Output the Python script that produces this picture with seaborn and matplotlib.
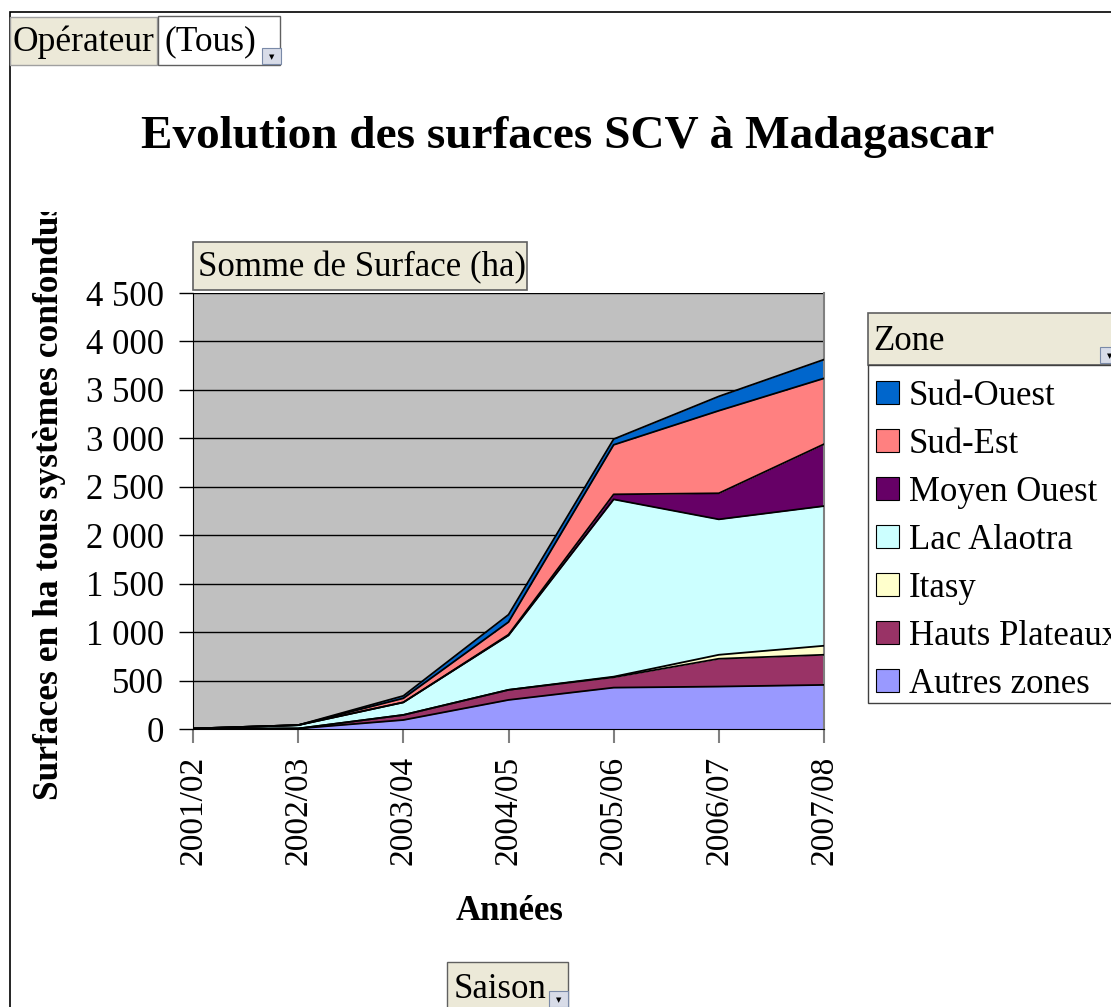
import numpy as np
import seaborn as sns
import matplotlib
matplotlib.use("Agg")
import matplotlib.pyplot as plt
from matplotlib.patches import Rectangle, Patch
from matplotlib.ticker import FuncFormatter, MultipleLocator
from matplotlib.transforms import Bbox, TransformedBbox

# data (ha)
saisons = ["2001/02", "2002/03", "2003/04", "2004/05", "2005/06", "2006/07", "2007/08"]
autres_zones = [2, 5, 93, 300, 427, 438, 455]
hauts_plateaux = [0, 0, 52, 104, 107, 287, 311]
itasy = [0, 0, 0, 0, 6, 41, 93]
lac_alaotra = [3, 35, 130, 562, 1830, 1398, 1442]
moyen_ouest = [0, 0, 0, 8, 52, 269, 639]
sud_est = [0, 0, 42, 130, 511, 852, 679]
sud_ouest = [0, 0, 25, 76, 59, 148, 194]

zones = ["Autres zones", "Hauts Plateaux", "Itasy", "Lac Alaotra",
         "Moyen Ouest", "Sud-Est", "Sud-Ouest"]
couleurs = ["#9999FF", "#993366", "#FFFFCC", "#CCFFFF",
            "#660066", "#FF8080", "#0066CC"]

sns.set_style("white")
plt.rcParams["font.family"] = ["Liberation Serif", "DejaVu Serif"]
plt.rcParams["text.color"] = "black"
plt.rcParams["xtick.labelcolor"] = "black"
plt.rcParams["ytick.labelcolor"] = "black"

W, H = 1111, 1007
fig = plt.figure(figsize=(W / 100, H / 100), dpi=100)


def px(x, y):
    return x / W, 1 - y / H


def box(x0, y0, x1, y1, fc, ec="black", lw=1.0, z=1):
    fig.add_artist(Rectangle(px(x0, y1), (x1 - x0) / W, (y1 - y0) / H,
                             transform=fig.transFigure, facecolor=fc,
                             edgecolor=ec, linewidth=lw, zorder=z))


def dropdown(x, y):
    box(x, y, x + 19, y + 16, "#D8DCE8", ec="#7A8AA8", lw=0.8, z=3)
    fig.text(*px(x + 9.5, y + 9), "\u25BC", family="DejaVu Sans", fontsize=5,
             ha="center", va="center", zorder=4)


# outer frame
box(10, 12, 1120, 1020, "none", lw=1.2)

# plot area
ax = fig.add_axes([193 / W, 1 - 729 / H, 631 / W, 436 / H])
ax.set_facecolor("#C0C0C0")

x = np.arange(len(saisons))
series = [autres_zones, hauts_plateaux, itasy, lac_alaotra, moyen_ouest, sud_est, sud_ouest]
bas = np.zeros(len(saisons))
handles = []
for nom, vals, c in zip(zones, series, couleurs):
    haut = bas + np.array(vals, dtype=float)
    ax.fill_between(x, bas, haut, color=c, linewidth=0, zorder=2)
    sns.lineplot(x=x, y=haut, color="black", linewidth=1.3, ax=ax, zorder=3)
    handles.append(Patch(facecolor=c, edgecolor="black", linewidth=0.8, label=nom))
    bas = haut

ax.set_xlim(0, len(saisons) - 1)
ax.set_ylim(0, 4500)
ax.yaxis.set_major_locator(MultipleLocator(500))
ax.yaxis.set_major_formatter(FuncFormatter(lambda v, p: f"{v:,.0f}".replace(",", " ")))
ax.grid(axis="y", color="black", linewidth=1.0, zorder=1)
ax.set_axisbelow(True)
ax.set_xticks(x)
ax.set_xticklabels(saisons, rotation=90, fontsize=24)
ax.tick_params(axis="y", labelsize=25, length=10, width=1, color="black", pad=11, left=True)
ax.tick_params(axis="x", length=10, width=1.5, color="#808080", pad=9, bottom=True)
ax.spines["top"].set_visible(False)
ax.spines["left"].set_color("black")
ax.spines["bottom"].set_color("black")
ax.spines["right"].set_color("#808080")
ax.spines["right"].set_linewidth(1.5)
ax.set_xlabel("")
ax.set_ylabel("")

# titles
fig.text(*px(568, 137), "Evolution des surfaces SCV à Madagascar", fontsize=34,
         fontweight="bold", ha="center", va="center")
fig.text(*px(510, 912), "Années", fontsize=25, fontweight="bold", ha="center", va="center")
yl = fig.text(*px(50, 800), "Surfaces en ha tous systèmes confondus", fontsize=25.5,
              fontweight="bold", rotation=90, ha="center", va="bottom")
yl.set_clip_box(TransformedBbox(Bbox([[0, 0], [1, 1 - 212 / H]]), fig.transFigure))
yl.set_clip_on(True)

# field buttons
beige = "#ECE9D8"
box(10, 17, 157, 65, beige, ec="#A0A0A0")
fig.text(*px(13, 42), "Opérateur", fontsize=25.5, va="center", ha="left")
box(158, 16, 280, 65, "white", ec="#606060")
fig.text(*px(164, 42), "(Tous)", fontsize=25.5, va="center", ha="left")
dropdown(262, 48)

box(193, 242, 527, 290, beige, ec="#606060", lw=1.2)
fig.text(*px(198, 268), "Somme de Surface (ha)", fontsize=25, va="center", ha="left")

box(447, 962, 568, 1030, beige, ec="#606060")
fig.text(*px(454, 989), "Saison", fontsize=25, va="center", ha="left")
dropdown(549, 991)

# legend
box(868, 313, 1130, 365, beige, ec="#606060", lw=1.2, z=2)
fig.text(*px(873, 341), "Zone", fontsize=25, va="center", ha="left", zorder=3)
dropdown(1100, 347)
box(868, 365, 1130, 703, "white", ec="#404040", lw=1.0, z=2)
leg = fig.legend(handles=handles[::-1], loc="upper left",
                 bbox_to_anchor=px(876, 380), bbox_transform=fig.transFigure,
                 frameon=False, fontsize=25, handlelength=0.65, handleheight=0.65,
                 handletextpad=0.3, labelspacing=0.43, borderaxespad=0, borderpad=0)
leg.set_zorder(5)

fig.savefig("out.png", dpi=100)
